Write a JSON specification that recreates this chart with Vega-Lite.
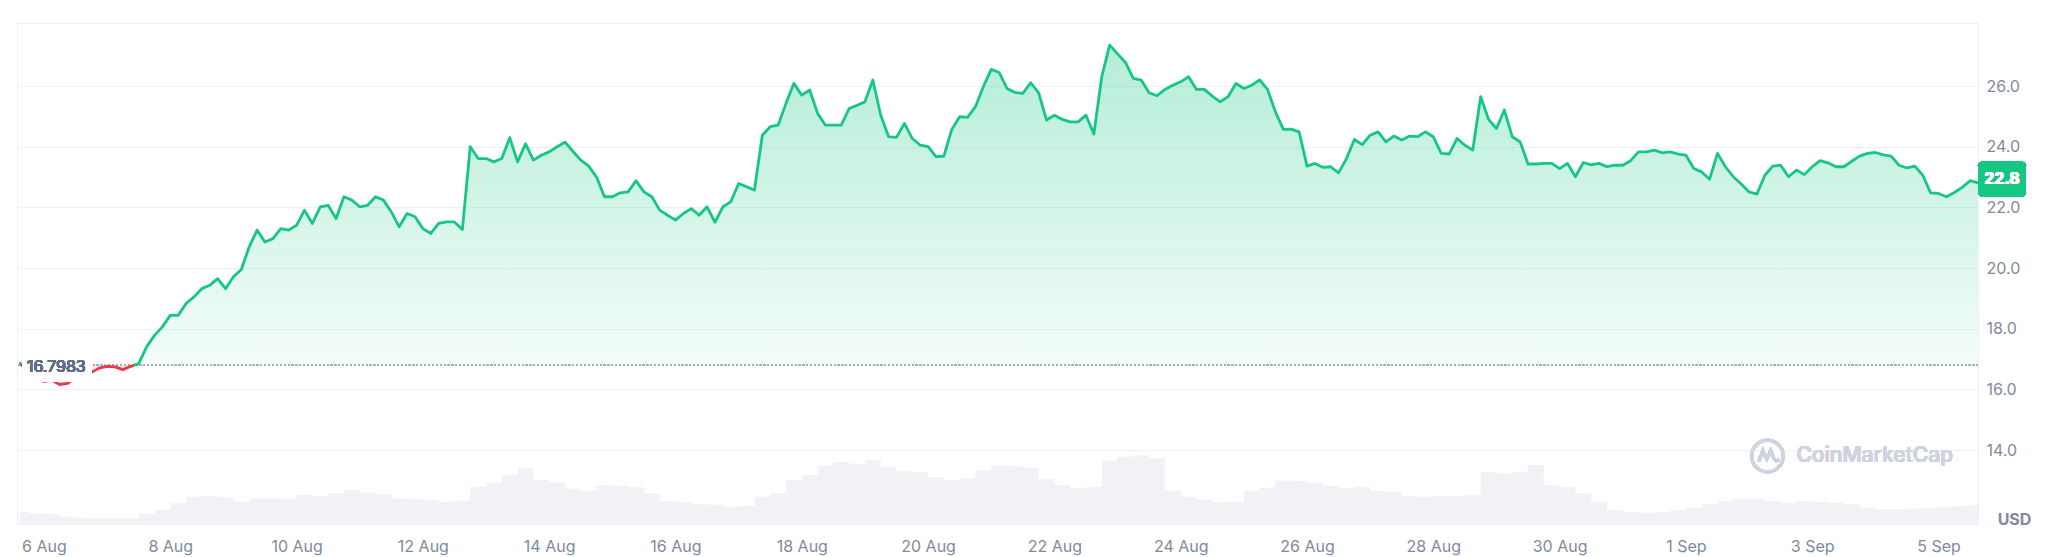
{
  "$schema": "https://vega.github.io/schema/vega-lite/v6.json",
  "width": 1961,
  "height": 501,
  "autosize": {"type": "none"},
  "padding": {"left": 17, "top": 23, "right": 70, "bottom": 33},
  "background": "#ffffff",
  "config": {
    "font": "Inter",
    "view": {"stroke": "#eef0f3", "strokeWidth": 1}
  },
  "datasets": {
    "price": [
      {"time": "2024-08-05T15:00", "price": 16.86, "seg": "a"},
      {"time": "2024-08-05T15:36", "price": 16.7983, "seg": "a"},
      {"time": "2024-08-05T15:36", "price": 16.7983, "seg": "b"},
      {"time": "2024-08-05T18:00", "price": 16.56, "seg": "b"},
      {"time": "2024-08-05T21:00", "price": 16.36, "seg": "b"},
      {"time": "2024-08-06T00:00", "price": 16.26, "seg": "b"},
      {"time": "2024-08-06T03:00", "price": 16.30, "seg": "b"},
      {"time": "2024-08-06T06:00", "price": 16.16, "seg": "b"},
      {"time": "2024-08-06T09:00", "price": 16.20, "seg": "b"},
      {"time": "2024-08-06T12:00", "price": 16.40, "seg": "b"},
      {"time": "2024-08-06T15:00", "price": 16.33, "seg": "b"},
      {"time": "2024-08-06T18:00", "price": 16.56, "seg": "b"},
      {"time": "2024-08-06T21:00", "price": 16.70, "seg": "b"},
      {"time": "2024-08-07T00:00", "price": 16.76, "seg": "b"},
      {"time": "2024-08-07T03:00", "price": 16.74, "seg": "b"},
      {"time": "2024-08-07T06:00", "price": 16.65, "seg": "b"},
      {"time": "2024-08-07T09:00", "price": 16.76, "seg": "b"},
      {"time": "2024-08-07T10:20", "price": 16.7983, "seg": "b"},
      {"time": "2024-08-07T10:20", "price": 16.7983, "seg": "c"},
      {"time": "2024-08-07T12:00", "price": 16.85, "seg": "c"},
      {"time": "2024-08-07T15:00", "price": 17.40, "seg": "c"},
      {"time": "2024-08-07T18:00", "price": 17.78, "seg": "c"},
      {"time": "2024-08-07T21:00", "price": 18.06, "seg": "c"},
      {"time": "2024-08-08T00:00", "price": 18.44, "seg": "c"},
      {"time": "2024-08-08T03:00", "price": 18.44, "seg": "c"},
      {"time": "2024-08-08T06:00", "price": 18.83, "seg": "c"},
      {"time": "2024-08-08T09:00", "price": 19.05, "seg": "c"},
      {"time": "2024-08-08T12:00", "price": 19.32, "seg": "c"},
      {"time": "2024-08-08T15:00", "price": 19.43, "seg": "c"},
      {"time": "2024-08-08T18:00", "price": 19.65, "seg": "c"},
      {"time": "2024-08-08T21:00", "price": 19.32, "seg": "c"},
      {"time": "2024-08-09T00:00", "price": 19.71, "seg": "c"},
      {"time": "2024-08-09T03:00", "price": 19.95, "seg": "c"},
      {"time": "2024-08-09T06:00", "price": 20.70, "seg": "c"},
      {"time": "2024-08-09T09:00", "price": 21.25, "seg": "c"},
      {"time": "2024-08-09T12:00", "price": 20.86, "seg": "c"},
      {"time": "2024-08-09T15:00", "price": 20.97, "seg": "c"},
      {"time": "2024-08-09T18:00", "price": 21.30, "seg": "c"},
      {"time": "2024-08-09T21:00", "price": 21.25, "seg": "c"},
      {"time": "2024-08-10T00:00", "price": 21.41, "seg": "c"},
      {"time": "2024-08-10T03:00", "price": 21.91, "seg": "c"},
      {"time": "2024-08-10T06:00", "price": 21.47, "seg": "c"},
      {"time": "2024-08-10T09:00", "price": 22.02, "seg": "c"},
      {"time": "2024-08-10T12:00", "price": 22.07, "seg": "c"},
      {"time": "2024-08-10T15:00", "price": 21.63, "seg": "c"},
      {"time": "2024-08-10T18:00", "price": 22.35, "seg": "c"},
      {"time": "2024-08-10T21:00", "price": 22.24, "seg": "c"},
      {"time": "2024-08-11T00:00", "price": 22.02, "seg": "c"},
      {"time": "2024-08-11T03:00", "price": 22.07, "seg": "c"},
      {"time": "2024-08-11T06:00", "price": 22.35, "seg": "c"},
      {"time": "2024-08-11T09:00", "price": 22.24, "seg": "c"},
      {"time": "2024-08-11T12:00", "price": 21.85, "seg": "c"},
      {"time": "2024-08-11T15:00", "price": 21.36, "seg": "c"},
      {"time": "2024-08-11T18:00", "price": 21.80, "seg": "c"},
      {"time": "2024-08-11T21:00", "price": 21.69, "seg": "c"},
      {"time": "2024-08-12T00:00", "price": 21.30, "seg": "c"},
      {"time": "2024-08-12T03:00", "price": 21.14, "seg": "c"},
      {"time": "2024-08-12T06:00", "price": 21.47, "seg": "c"},
      {"time": "2024-08-12T09:00", "price": 21.52, "seg": "c"},
      {"time": "2024-08-12T12:00", "price": 21.52, "seg": "c"},
      {"time": "2024-08-12T15:00", "price": 21.27, "seg": "c"},
      {"time": "2024-08-12T18:00", "price": 24.00, "seg": "c"},
      {"time": "2024-08-12T21:00", "price": 23.61, "seg": "c"},
      {"time": "2024-08-13T00:00", "price": 23.61, "seg": "c"},
      {"time": "2024-08-13T03:00", "price": 23.50, "seg": "c"},
      {"time": "2024-08-13T06:00", "price": 23.61, "seg": "c"},
      {"time": "2024-08-13T09:00", "price": 24.30, "seg": "c"},
      {"time": "2024-08-13T12:00", "price": 23.50, "seg": "c"},
      {"time": "2024-08-13T15:00", "price": 24.10, "seg": "c"},
      {"time": "2024-08-13T18:00", "price": 23.56, "seg": "c"},
      {"time": "2024-08-13T21:00", "price": 23.72, "seg": "c"},
      {"time": "2024-08-14T00:00", "price": 23.83, "seg": "c"},
      {"time": "2024-08-14T03:00", "price": 24.00, "seg": "c"},
      {"time": "2024-08-14T06:00", "price": 24.15, "seg": "c"},
      {"time": "2024-08-14T09:00", "price": 23.85, "seg": "c"},
      {"time": "2024-08-14T12:00", "price": 23.56, "seg": "c"},
      {"time": "2024-08-14T15:00", "price": 23.36, "seg": "c"},
      {"time": "2024-08-14T18:00", "price": 23.00, "seg": "c"},
      {"time": "2024-08-14T21:00", "price": 22.35, "seg": "c"},
      {"time": "2024-08-15T00:00", "price": 22.35, "seg": "c"},
      {"time": "2024-08-15T03:00", "price": 22.48, "seg": "c"},
      {"time": "2024-08-15T06:00", "price": 22.51, "seg": "c"},
      {"time": "2024-08-15T09:00", "price": 22.88, "seg": "c"},
      {"time": "2024-08-15T12:00", "price": 22.51, "seg": "c"},
      {"time": "2024-08-15T15:00", "price": 22.35, "seg": "c"},
      {"time": "2024-08-15T18:00", "price": 21.91, "seg": "c"},
      {"time": "2024-08-15T21:00", "price": 21.74, "seg": "c"},
      {"time": "2024-08-16T00:00", "price": 21.58, "seg": "c"},
      {"time": "2024-08-16T03:00", "price": 21.80, "seg": "c"},
      {"time": "2024-08-16T06:00", "price": 21.96, "seg": "c"},
      {"time": "2024-08-16T09:00", "price": 21.74, "seg": "c"},
      {"time": "2024-08-16T12:00", "price": 22.02, "seg": "c"},
      {"time": "2024-08-16T15:00", "price": 21.51, "seg": "c"},
      {"time": "2024-08-16T18:00", "price": 22.02, "seg": "c"},
      {"time": "2024-08-16T21:00", "price": 22.18, "seg": "c"},
      {"time": "2024-08-17T00:00", "price": 22.79, "seg": "c"},
      {"time": "2024-08-17T03:00", "price": 22.68, "seg": "c"},
      {"time": "2024-08-17T06:00", "price": 22.57, "seg": "c"},
      {"time": "2024-08-17T09:00", "price": 24.38, "seg": "c"},
      {"time": "2024-08-17T12:00", "price": 24.66, "seg": "c"},
      {"time": "2024-08-17T15:00", "price": 24.71, "seg": "c"},
      {"time": "2024-08-17T18:00", "price": 25.43, "seg": "c"},
      {"time": "2024-08-17T21:00", "price": 26.09, "seg": "c"},
      {"time": "2024-08-18T00:00", "price": 25.70, "seg": "c"},
      {"time": "2024-08-18T03:00", "price": 25.87, "seg": "c"},
      {"time": "2024-08-18T06:00", "price": 25.10, "seg": "c"},
      {"time": "2024-08-18T09:00", "price": 24.71, "seg": "c"},
      {"time": "2024-08-18T12:00", "price": 24.71, "seg": "c"},
      {"time": "2024-08-18T15:00", "price": 24.71, "seg": "c"},
      {"time": "2024-08-18T18:00", "price": 25.26, "seg": "c"},
      {"time": "2024-08-18T21:00", "price": 25.37, "seg": "c"},
      {"time": "2024-08-19T00:00", "price": 25.48, "seg": "c"},
      {"time": "2024-08-19T03:00", "price": 26.20, "seg": "c"},
      {"time": "2024-08-19T06:00", "price": 25.04, "seg": "c"},
      {"time": "2024-08-19T09:00", "price": 24.33, "seg": "c"},
      {"time": "2024-08-19T12:00", "price": 24.31, "seg": "c"},
      {"time": "2024-08-19T15:00", "price": 24.77, "seg": "c"},
      {"time": "2024-08-19T18:00", "price": 24.27, "seg": "c"},
      {"time": "2024-08-19T21:00", "price": 24.05, "seg": "c"},
      {"time": "2024-08-20T00:00", "price": 24.00, "seg": "c"},
      {"time": "2024-08-20T03:00", "price": 23.67, "seg": "c"},
      {"time": "2024-08-20T06:00", "price": 23.69, "seg": "c"},
      {"time": "2024-08-20T09:00", "price": 24.57, "seg": "c"},
      {"time": "2024-08-20T12:00", "price": 24.99, "seg": "c"},
      {"time": "2024-08-20T15:00", "price": 24.97, "seg": "c"},
      {"time": "2024-08-20T18:00", "price": 25.32, "seg": "c"},
      {"time": "2024-08-20T21:00", "price": 25.98, "seg": "c"},
      {"time": "2024-08-21T00:00", "price": 26.55, "seg": "c"},
      {"time": "2024-08-21T03:00", "price": 26.45, "seg": "c"},
      {"time": "2024-08-21T06:00", "price": 25.92, "seg": "c"},
      {"time": "2024-08-21T09:00", "price": 25.79, "seg": "c"},
      {"time": "2024-08-21T12:00", "price": 25.76, "seg": "c"},
      {"time": "2024-08-21T15:00", "price": 26.11, "seg": "c"},
      {"time": "2024-08-21T18:00", "price": 25.78, "seg": "c"},
      {"time": "2024-08-21T21:00", "price": 24.88, "seg": "c"},
      {"time": "2024-08-22T00:00", "price": 25.04, "seg": "c"},
      {"time": "2024-08-22T03:00", "price": 24.90, "seg": "c"},
      {"time": "2024-08-22T06:00", "price": 24.82, "seg": "c"},
      {"time": "2024-08-22T09:00", "price": 24.82, "seg": "c"},
      {"time": "2024-08-22T12:00", "price": 25.04, "seg": "c"},
      {"time": "2024-08-22T15:00", "price": 24.42, "seg": "c"},
      {"time": "2024-08-22T18:00", "price": 26.31, "seg": "c"},
      {"time": "2024-08-22T21:00", "price": 27.35, "seg": "c"},
      {"time": "2024-08-23T00:00", "price": 27.06, "seg": "c"},
      {"time": "2024-08-23T03:00", "price": 26.78, "seg": "c"},
      {"time": "2024-08-23T06:00", "price": 26.25, "seg": "c"},
      {"time": "2024-08-23T09:00", "price": 26.20, "seg": "c"},
      {"time": "2024-08-23T12:00", "price": 25.78, "seg": "c"},
      {"time": "2024-08-23T15:00", "price": 25.68, "seg": "c"},
      {"time": "2024-08-23T18:00", "price": 25.89, "seg": "c"},
      {"time": "2024-08-23T21:00", "price": 26.03, "seg": "c"},
      {"time": "2024-08-24T00:00", "price": 26.14, "seg": "c"},
      {"time": "2024-08-24T03:00", "price": 26.31, "seg": "c"},
      {"time": "2024-08-24T06:00", "price": 25.89, "seg": "c"},
      {"time": "2024-08-24T09:00", "price": 25.89, "seg": "c"},
      {"time": "2024-08-24T12:00", "price": 25.67, "seg": "c"},
      {"time": "2024-08-24T15:00", "price": 25.48, "seg": "c"},
      {"time": "2024-08-24T18:00", "price": 25.65, "seg": "c"},
      {"time": "2024-08-24T21:00", "price": 26.09, "seg": "c"},
      {"time": "2024-08-25T00:00", "price": 25.92, "seg": "c"},
      {"time": "2024-08-25T03:00", "price": 26.03, "seg": "c"},
      {"time": "2024-08-25T06:00", "price": 26.20, "seg": "c"},
      {"time": "2024-08-25T09:00", "price": 25.89, "seg": "c"},
      {"time": "2024-08-25T12:00", "price": 25.15, "seg": "c"},
      {"time": "2024-08-25T15:00", "price": 24.57, "seg": "c"},
      {"time": "2024-08-25T18:00", "price": 24.58, "seg": "c"},
      {"time": "2024-08-25T21:00", "price": 24.49, "seg": "c"},
      {"time": "2024-08-26T00:00", "price": 23.36, "seg": "c"},
      {"time": "2024-08-26T03:00", "price": 23.45, "seg": "c"},
      {"time": "2024-08-26T06:00", "price": 23.32, "seg": "c"},
      {"time": "2024-08-26T09:00", "price": 23.34, "seg": "c"},
      {"time": "2024-08-26T12:00", "price": 23.14, "seg": "c"},
      {"time": "2024-08-26T15:00", "price": 23.61, "seg": "c"},
      {"time": "2024-08-26T18:00", "price": 24.24, "seg": "c"},
      {"time": "2024-08-26T21:00", "price": 24.07, "seg": "c"},
      {"time": "2024-08-27T00:00", "price": 24.38, "seg": "c"},
      {"time": "2024-08-27T03:00", "price": 24.49, "seg": "c"},
      {"time": "2024-08-27T06:00", "price": 24.16, "seg": "c"},
      {"time": "2024-08-27T09:00", "price": 24.35, "seg": "c"},
      {"time": "2024-08-27T12:00", "price": 24.22, "seg": "c"},
      {"time": "2024-08-27T15:00", "price": 24.35, "seg": "c"},
      {"time": "2024-08-27T18:00", "price": 24.33, "seg": "c"},
      {"time": "2024-08-27T21:00", "price": 24.49, "seg": "c"},
      {"time": "2024-08-28T00:00", "price": 24.33, "seg": "c"},
      {"time": "2024-08-28T03:00", "price": 23.78, "seg": "c"},
      {"time": "2024-08-28T06:00", "price": 23.76, "seg": "c"},
      {"time": "2024-08-28T09:00", "price": 24.27, "seg": "c"},
      {"time": "2024-08-28T12:00", "price": 24.05, "seg": "c"},
      {"time": "2024-08-28T15:00", "price": 23.89, "seg": "c"},
      {"time": "2024-08-28T18:00", "price": 25.65, "seg": "c"},
      {"time": "2024-08-28T21:00", "price": 24.90, "seg": "c"},
      {"time": "2024-08-29T00:00", "price": 24.60, "seg": "c"},
      {"time": "2024-08-29T03:00", "price": 25.21, "seg": "c"},
      {"time": "2024-08-29T06:00", "price": 24.33, "seg": "c"},
      {"time": "2024-08-29T09:00", "price": 24.16, "seg": "c"},
      {"time": "2024-08-29T12:00", "price": 23.43, "seg": "c"},
      {"time": "2024-08-29T15:00", "price": 23.43, "seg": "c"},
      {"time": "2024-08-29T18:00", "price": 23.45, "seg": "c"},
      {"time": "2024-08-29T21:00", "price": 23.45, "seg": "c"},
      {"time": "2024-08-30T00:00", "price": 23.28, "seg": "c"},
      {"time": "2024-08-30T03:00", "price": 23.45, "seg": "c"},
      {"time": "2024-08-30T06:00", "price": 23.01, "seg": "c"},
      {"time": "2024-08-30T09:00", "price": 23.48, "seg": "c"},
      {"time": "2024-08-30T12:00", "price": 23.40, "seg": "c"},
      {"time": "2024-08-30T15:00", "price": 23.45, "seg": "c"},
      {"time": "2024-08-30T18:00", "price": 23.34, "seg": "c"},
      {"time": "2024-08-30T21:00", "price": 23.39, "seg": "c"},
      {"time": "2024-08-31T00:00", "price": 23.39, "seg": "c"},
      {"time": "2024-08-31T03:00", "price": 23.54, "seg": "c"},
      {"time": "2024-08-31T06:00", "price": 23.83, "seg": "c"},
      {"time": "2024-08-31T09:00", "price": 23.83, "seg": "c"},
      {"time": "2024-08-31T12:00", "price": 23.89, "seg": "c"},
      {"time": "2024-08-31T15:00", "price": 23.80, "seg": "c"},
      {"time": "2024-08-31T18:00", "price": 23.83, "seg": "c"},
      {"time": "2024-08-31T21:00", "price": 23.76, "seg": "c"},
      {"time": "2024-09-01T00:00", "price": 23.72, "seg": "c"},
      {"time": "2024-09-01T03:00", "price": 23.28, "seg": "c"},
      {"time": "2024-09-01T06:00", "price": 23.17, "seg": "c"},
      {"time": "2024-09-01T09:00", "price": 22.93, "seg": "c"},
      {"time": "2024-09-01T12:00", "price": 23.78, "seg": "c"},
      {"time": "2024-09-01T15:00", "price": 23.34, "seg": "c"},
      {"time": "2024-09-01T18:00", "price": 23.01, "seg": "c"},
      {"time": "2024-09-01T21:00", "price": 22.77, "seg": "c"},
      {"time": "2024-09-02T00:00", "price": 22.51, "seg": "c"},
      {"time": "2024-09-02T03:00", "price": 22.44, "seg": "c"},
      {"time": "2024-09-02T06:00", "price": 23.06, "seg": "c"},
      {"time": "2024-09-02T09:00", "price": 23.36, "seg": "c"},
      {"time": "2024-09-02T12:00", "price": 23.39, "seg": "c"},
      {"time": "2024-09-02T15:00", "price": 23.01, "seg": "c"},
      {"time": "2024-09-02T18:00", "price": 23.23, "seg": "c"},
      {"time": "2024-09-02T21:00", "price": 23.08, "seg": "c"},
      {"time": "2024-09-03T00:00", "price": 23.34, "seg": "c"},
      {"time": "2024-09-03T03:00", "price": 23.54, "seg": "c"},
      {"time": "2024-09-03T06:00", "price": 23.47, "seg": "c"},
      {"time": "2024-09-03T09:00", "price": 23.34, "seg": "c"},
      {"time": "2024-09-03T12:00", "price": 23.34, "seg": "c"},
      {"time": "2024-09-03T15:00", "price": 23.52, "seg": "c"},
      {"time": "2024-09-03T18:00", "price": 23.69, "seg": "c"},
      {"time": "2024-09-03T21:00", "price": 23.78, "seg": "c"},
      {"time": "2024-09-04T00:00", "price": 23.81, "seg": "c"},
      {"time": "2024-09-04T03:00", "price": 23.73, "seg": "c"},
      {"time": "2024-09-04T06:00", "price": 23.69, "seg": "c"},
      {"time": "2024-09-04T09:00", "price": 23.39, "seg": "c"},
      {"time": "2024-09-04T12:00", "price": 23.30, "seg": "c"},
      {"time": "2024-09-04T15:00", "price": 23.36, "seg": "c"},
      {"time": "2024-09-04T18:00", "price": 23.06, "seg": "c"},
      {"time": "2024-09-04T21:00", "price": 22.48, "seg": "c"},
      {"time": "2024-09-05T00:00", "price": 22.46, "seg": "c"},
      {"time": "2024-09-05T03:00", "price": 22.35, "seg": "c"},
      {"time": "2024-09-05T06:00", "price": 22.49, "seg": "c"},
      {"time": "2024-09-05T09:00", "price": 22.66, "seg": "c"},
      {"time": "2024-09-05T12:00", "price": 22.88, "seg": "c"},
      {"time": "2024-09-05T15:00", "price": 22.81, "seg": "c"}
    ],
    "vol": [
      {"time": "2024-08-05T15:00", "vol": 48}, {"time": "2024-08-05T21:00", "vol": 43},
      {"time": "2024-08-06T03:00", "vol": 40}, {"time": "2024-08-06T09:00", "vol": 29}, {"time": "2024-08-06T15:00", "vol": 25}, {"time": "2024-08-06T21:00", "vol": 23},
      {"time": "2024-08-07T03:00", "vol": 23}, {"time": "2024-08-07T09:00", "vol": 23}, {"time": "2024-08-07T15:00", "vol": 40}, {"time": "2024-08-07T21:00", "vol": 56},
      {"time": "2024-08-08T03:00", "vol": 83}, {"time": "2024-08-08T09:00", "vol": 109}, {"time": "2024-08-08T15:00", "vol": 112}, {"time": "2024-08-08T21:00", "vol": 107},
      {"time": "2024-08-09T03:00", "vol": 89}, {"time": "2024-08-09T09:00", "vol": 103}, {"time": "2024-08-09T15:00", "vol": 103}, {"time": "2024-08-09T21:00", "vol": 99},
      {"time": "2024-08-10T03:00", "vol": 116}, {"time": "2024-08-10T09:00", "vol": 112}, {"time": "2024-08-10T15:00", "vol": 123}, {"time": "2024-08-10T21:00", "vol": 136},
      {"time": "2024-08-11T03:00", "vol": 125}, {"time": "2024-08-11T09:00", "vol": 119}, {"time": "2024-08-11T15:00", "vol": 103}, {"time": "2024-08-11T21:00", "vol": 99},
      {"time": "2024-08-12T03:00", "vol": 95}, {"time": "2024-08-12T09:00", "vol": 88}, {"time": "2024-08-12T15:00", "vol": 93}, {"time": "2024-08-12T21:00", "vol": 149},
      {"time": "2024-08-13T03:00", "vol": 165}, {"time": "2024-08-13T09:00", "vol": 195}, {"time": "2024-08-13T15:00", "vol": 223}, {"time": "2024-08-13T21:00", "vol": 176},
      {"time": "2024-08-14T03:00", "vol": 167}, {"time": "2024-08-14T09:00", "vol": 141}, {"time": "2024-08-14T15:00", "vol": 133}, {"time": "2024-08-14T21:00", "vol": 156},
      {"time": "2024-08-15T03:00", "vol": 153}, {"time": "2024-08-15T09:00", "vol": 147}, {"time": "2024-08-15T15:00", "vol": 123}, {"time": "2024-08-15T21:00", "vol": 91},
      {"time": "2024-08-16T03:00", "vol": 87}, {"time": "2024-08-16T09:00", "vol": 81}, {"time": "2024-08-16T15:00", "vol": 77}, {"time": "2024-08-16T21:00", "vol": 69},
      {"time": "2024-08-17T03:00", "vol": 73}, {"time": "2024-08-17T09:00", "vol": 109}, {"time": "2024-08-17T15:00", "vol": 123}, {"time": "2024-08-17T21:00", "vol": 177},
      {"time": "2024-08-18T03:00", "vol": 196}, {"time": "2024-08-18T09:00", "vol": 233}, {"time": "2024-08-18T15:00", "vol": 248}, {"time": "2024-08-18T21:00", "vol": 241},
      {"time": "2024-08-19T03:00", "vol": 256}, {"time": "2024-08-19T09:00", "vol": 229}, {"time": "2024-08-19T15:00", "vol": 211}, {"time": "2024-08-19T21:00", "vol": 209},
      {"time": "2024-08-20T03:00", "vol": 187}, {"time": "2024-08-20T09:00", "vol": 175}, {"time": "2024-08-20T15:00", "vol": 183}, {"time": "2024-08-20T21:00", "vol": 215},
      {"time": "2024-08-21T03:00", "vol": 235}, {"time": "2024-08-21T09:00", "vol": 232}, {"time": "2024-08-21T15:00", "vol": 225}, {"time": "2024-08-21T21:00", "vol": 179},
      {"time": "2024-08-22T03:00", "vol": 156}, {"time": "2024-08-22T09:00", "vol": 144}, {"time": "2024-08-22T15:00", "vol": 149}, {"time": "2024-08-22T21:00", "vol": 253},
      {"time": "2024-08-23T03:00", "vol": 269}, {"time": "2024-08-23T09:00", "vol": 275}, {"time": "2024-08-23T15:00", "vol": 263}, {"time": "2024-08-23T21:00", "vol": 133},
      {"time": "2024-08-24T03:00", "vol": 109}, {"time": "2024-08-24T09:00", "vol": 97}, {"time": "2024-08-24T15:00", "vol": 87}, {"time": "2024-08-24T21:00", "vol": 89},
      {"time": "2024-08-25T03:00", "vol": 133}, {"time": "2024-08-25T09:00", "vol": 145}, {"time": "2024-08-25T15:00", "vol": 173}, {"time": "2024-08-25T21:00", "vol": 172},
      {"time": "2024-08-26T03:00", "vol": 165}, {"time": "2024-08-26T09:00", "vol": 152}, {"time": "2024-08-26T15:00", "vol": 144}, {"time": "2024-08-26T21:00", "vol": 149},
      {"time": "2024-08-27T03:00", "vol": 132}, {"time": "2024-08-27T09:00", "vol": 129}, {"time": "2024-08-27T15:00", "vol": 112}, {"time": "2024-08-27T21:00", "vol": 109},
      {"time": "2024-08-28T03:00", "vol": 112}, {"time": "2024-08-28T09:00", "vol": 112}, {"time": "2024-08-28T15:00", "vol": 115}, {"time": "2024-08-28T21:00", "vol": 208},
      {"time": "2024-08-29T03:00", "vol": 203}, {"time": "2024-08-29T09:00", "vol": 209}, {"time": "2024-08-29T15:00", "vol": 236}, {"time": "2024-08-29T21:00", "vol": 156},
      {"time": "2024-08-30T03:00", "vol": 147}, {"time": "2024-08-30T09:00", "vol": 123}, {"time": "2024-08-30T15:00", "vol": 89}, {"time": "2024-08-30T21:00", "vol": 56},
      {"time": "2024-08-31T03:00", "vol": 49}, {"time": "2024-08-31T09:00", "vol": 45}, {"time": "2024-08-31T15:00", "vol": 48}, {"time": "2024-08-31T21:00", "vol": 55},
      {"time": "2024-09-01T03:00", "vol": 65}, {"time": "2024-09-01T09:00", "vol": 81}, {"time": "2024-09-01T15:00", "vol": 92}, {"time": "2024-09-01T21:00", "vol": 101},
      {"time": "2024-09-02T03:00", "vol": 101}, {"time": "2024-09-02T09:00", "vol": 92}, {"time": "2024-09-02T15:00", "vol": 85}, {"time": "2024-09-02T21:00", "vol": 91},
      {"time": "2024-09-03T03:00", "vol": 88}, {"time": "2024-09-03T09:00", "vol": 84}, {"time": "2024-09-03T15:00", "vol": 80}, {"time": "2024-09-03T21:00", "vol": 65},
      {"time": "2024-09-04T03:00", "vol": 59}, {"time": "2024-09-04T09:00", "vol": 59}, {"time": "2024-09-04T15:00", "vol": 61}, {"time": "2024-09-04T21:00", "vol": 64},
      {"time": "2024-09-05T03:00", "vol": 69}, {"time": "2024-09-05T09:00", "vol": 72}, {"time": "2024-09-05T15:00", "vol": 76}
    ]
  },
  "layer": [
    {
      "data": {"name": "vol"},
      "mark": {"type": "area", "interpolate": "step", "color": "#f0f2f5"},
      "encoding": {
        "x": {
          "field": "time", "type": "temporal",
          "scale": {"domain": [{"year": 2024, "month": 8, "date": 5, "hours": 13, "minutes": 45}, {"year": 2024, "month": 9, "date": 5, "hours": 15}], "nice": false},
          "axis": {
            "values": [
              {"year": 2024, "month": 8, "date": 6}, {"year": 2024, "month": 8, "date": 8}, {"year": 2024, "month": 8, "date": 10},
              {"year": 2024, "month": 8, "date": 12}, {"year": 2024, "month": 8, "date": 14}, {"year": 2024, "month": 8, "date": 16},
              {"year": 2024, "month": 8, "date": 18}, {"year": 2024, "month": 8, "date": 20}, {"year": 2024, "month": 8, "date": 22},
              {"year": 2024, "month": 8, "date": 24}, {"year": 2024, "month": 8, "date": 26}, {"year": 2024, "month": 8, "date": 28},
              {"year": 2024, "month": 8, "date": 30}, {"year": 2024, "month": 9, "date": 1}, {"year": 2024, "month": 9, "date": 3},
              {"year": 2024, "month": 9, "date": 5}
            ],
            "format": "%-d %b", "grid": false, "domain": false, "ticks": false,
            "labelPadding": 27, "labelBaseline": "alphabetic", "labelFontSize": 16,
            "labelColor": "#808a9d", "labelFlush": false, "labelOverlap": false, "title": null
          }
        },
        "y": {"field": "vol", "type": "quantitative", "scale": {"domain": [0, 2004]}, "axis": null}
      }
    },
    {
      "data": {"name": "price"},
      "layer": [
        {
          "transform": [{"filter": "datum.seg != 'b'"}],
          "mark": {"type": "area", "fill": {"gradient": "linear", "x1": 0, "y1": 0, "x2": 0, "y2": 1, "stops": [{"offset": 0, "color": "rgba(22,199,132,0.32)"}, {"offset": 1, "color": "rgba(22,199,132,0.05)"}]}},
          "encoding": {
            "x": {"field": "time", "type": "temporal", "scale": {"domain": [{"year": 2024, "month": 8, "date": 5, "hours": 13, "minutes": 45}, {"year": 2024, "month": 9, "date": 5, "hours": 15}], "nice": false}},
            "y": {
              "field": "price", "type": "quantitative",
              "scale": {"domain": [11.56, 28.08], "nice": false, "zero": false},
              "axis": {
                "orient": "right", "values": [14, 16, 18, 20, 22, 24, 26], "format": ".1f",
                "grid": true, "gridColor": "#eff1f4", "gridWidth": 1, "domain": false, "ticks": false,
                "labelPadding": 8, "labelFontSize": 16, "labelColor": "#808a9d",
                "title": "USD", "titleAngle": 0, "titleX": 36, "titleY": 496, "titleAlign": "center",
                "titleBaseline": "middle", "titleFontSize": 16, "titleFontWeight": "bold", "titleColor": "#808a9d"
              }
            },
            "y2": {"datum": 16.7983},
            "detail": {"field": "seg"}
          }
        },
        {
          "transform": [{"filter": "datum.seg == 'b'"}],
          "mark": {"type": "area", "fill": "rgba(234,57,67,0.12)"},
          "encoding": {
            "x": {"field": "time", "type": "temporal"},
            "y": {"field": "price", "type": "quantitative"},
            "y2": {"datum": 16.7983}
          }
        },
        {
          "mark": {"type": "rule", "color": "#a3abb9", "strokeWidth": 1, "strokeDash": [1.3, 2.6]},
          "encoding": {"y": {"datum": 16.7983, "type": "quantitative"}}
        },
        {
          "mark": {"type": "line", "strokeWidth": 2.8, "strokeJoin": "round", "strokeCap": "round"},
          "encoding": {
            "x": {"field": "time", "type": "temporal"},
            "y": {"field": "price", "type": "quantitative"},
            "color": {"field": "seg", "type": "nominal", "scale": {"domain": ["a", "b", "c"], "range": ["#16c784", "#ea3943", "#16c784"]}, "legend": null}
          }
        },
        {
          "mark": {"type": "rect", "fill": "#ffffff", "opacity": 0.8},
          "encoding": {
            "x": {"datum": {"year": 2024, "month": 8, "date": 5, "hours": 16}, "type": "temporal"},
            "x2": {"datum": {"year": 2024, "month": 8, "date": 6, "hours": 18, "minutes": 15}},
            "y": {"datum": 17.3, "type": "quantitative"},
            "y2": {"datum": 16.25}
          }
        },
        {
          "mark": {"type": "text", "text": "16.7983", "align": "left", "baseline": "middle", "dy": 2, "fontSize": 16, "color": "#616e85"},
          "encoding": {
            "x": {"datum": {"year": 2024, "month": 8, "date": 5, "hours": 17, "minutes": 30}, "type": "temporal"},
            "y": {"datum": 16.7983, "type": "quantitative"}
          }
        },
        {
          "mark": {"type": "rect", "fill": "#16c784", "cornerRadius": 4, "xOffset": 0, "x2Offset": 48, "yOffset": -21, "y2Offset": 14},
          "encoding": {
            "x": {"datum": {"year": 2024, "month": 9, "date": 5, "hours": 15}, "type": "temporal"},
            "x2": {"datum": {"year": 2024, "month": 9, "date": 5, "hours": 15}},
            "y": {"datum": 22.81, "type": "quantitative"},
            "y2": {"datum": 22.81}
          }
        },
        {
          "mark": {"type": "text", "text": "22.8", "align": "center", "baseline": "middle", "dx": 24, "dy": -3.5, "fontSize": 16, "fontWeight": "bold", "color": "#ffffff"},
          "encoding": {
            "x": {"datum": {"year": 2024, "month": 9, "date": 5, "hours": 15}, "type": "temporal"},
            "y": {"datum": 22.81, "type": "quantitative"}
          }
        },
        {
          "mark": {"type": "point", "shape": "M1,0 A1,1 0 1,1 -1,0 A1,1 0 1,1 1,0 M-0.55,0.35 L-0.3,-0.35 L-0.05,0.2 L0.2,-0.35 L0.4,0.15 Q0.55,0.45 0.75,0.2", "size": 1000, "filled": false, "stroke": "#cdd3df", "strokeWidth": 3, "opacity": 1},
          "encoding": {
            "x": {"datum": {"year": 2024, "month": 9, "date": 2, "hours": 7}, "type": "temporal"},
            "y": {"datum": 13.8, "type": "quantitative"}
          }
        },
        {
          "mark": {"type": "text", "text": "CoinMarketCap", "align": "left", "baseline": "middle", "fontSize": 21, "fontWeight": 500, "color": "#cdd3df"},
          "encoding": {
            "x": {"datum": {"year": 2024, "month": 9, "date": 2, "hours": 18}, "type": "temporal"},
            "y": {"datum": 13.8, "type": "quantitative"}
          }
        }
      ]
    }
  ],
  "resolve": {"scale": {"y": "independent"}}
}
